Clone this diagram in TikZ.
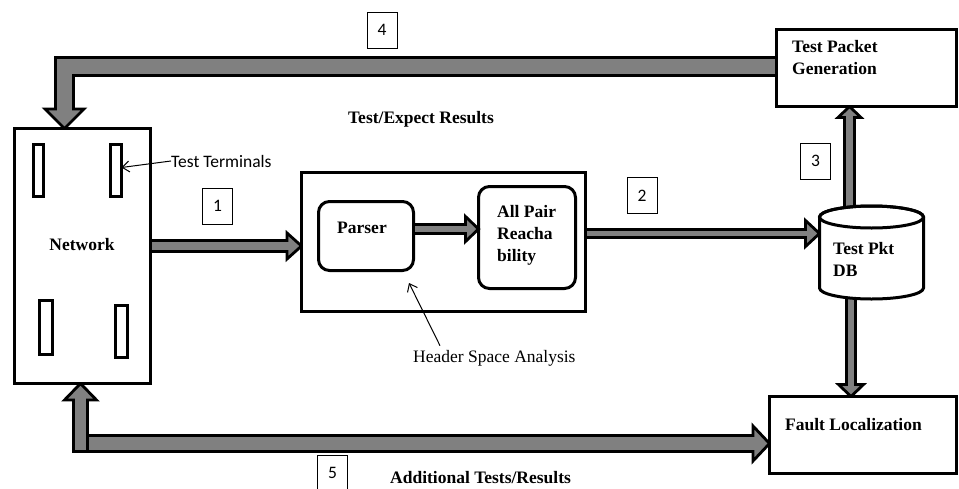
\documentclass[tikz,border=0pt]{standalone}
\usepackage{fontspec}
\setmainfont{Liberation Serif}
\newfontfamily\calibrifont{Carlito}
\usetikzlibrary{calc,arrows.meta}
\pgfdeclarelayer{background}
\pgfsetlayers{background,main}
\tikzset{
  box/.style={draw, line width=3pt, fill=white, inner sep=0pt, outer sep=0pt},
  rbox/.style={box, rounded corners=11pt},
  term/.style={draw, line width=3pt, fill=white, inner sep=0pt, outer sep=0pt},
  numbox/.style={draw, line width=0.9pt, inner sep=0pt, outer sep=0pt, minimum width=30pt, minimum height=36pt, font=\calibrifont\fontsize{17.5}{21}\selectfont},
  lbl/.style={font=\fontsize{17.5}{22}\selectfont\bfseries, inner sep=0pt, align=left},
  plainlbl/.style={font=\fontsize{17.5}{22}\selectfont, inner sep=0pt},
  callbl/.style={font=\calibrifont\fontsize{17.5}{21}\selectfont, inner sep=0pt},
  fat/.style={fill=gray, draw=black, line width=2.8pt, line join=miter},
  thinarrow/.style={line width=1pt, -{Straight Barb[length=7pt,width=11pt]}},
}
\newcommand\fatright[5]{\filldraw[fat] let \p1=#1, \p2=#2 in (\x1,\y1+#3) -- (\x2-#5,\y1+#3) -- (\x2-#5,\y1+#4) -- (\x2,\y1) -- (\x2-#5,\y1-#4) -- (\x2-#5,\y1-#3) -- (\x1,\y1-#3) -- cycle;}
\newcommand\fatup[5]{\filldraw[fat] let \p1=#1, \p2=#2 in (\x1-#3,\y1) -- (\x1-#3,\y2-#5) -- (\x1-#4,\y2-#5) -- (\x1,\y2) -- (\x1+#4,\y2-#5) -- (\x1+#3,\y2-#5) -- (\x1+#3,\y1) -- cycle;}
\newcommand\fatdown[5]{\filldraw[fat] let \p1=#1, \p2=#2 in (\x1-#3,\y1) -- (\x1-#3,\y2+#5) -- (\x1-#4,\y2+#5) -- (\x1,\y2) -- (\x1+#4,\y2+#5) -- (\x1+#3,\y2+#5) -- (\x1+#3,\y1) -- cycle;}
\begin{document}
\begin{tikzpicture}[x=1pt,y=-1pt]
\useasboundingbox (0,0) rectangle (959,488);

% Network
\node[box, minimum width=136pt, minimum height=255pt] (net) at (82.5,256) {};
\node[term, minimum width=10pt, minimum height=52pt] (t1) at (38.5,170.5) {};
\node[term, minimum width=11pt, minimum height=52pt] (t2) at (116,170.5) {};
\node[term, minimum width=13pt, minimum height=54pt] (t3) at (46,327.5) {};
\node[term, minimum width=12pt, minimum height=52pt] (t4) at (121.5,331.5) {};
\node[lbl] (nettxt) at (82,245) {Network};

% Header space analysis
\node[box, minimum width=284pt, minimum height=139pt] (hsa) at (443.5,242) {};
\node[rbox, minimum width=95pt, minimum height=69pt] (parser) at (366,236) {};
\node[lbl, anchor=base] (partxt) at (362,233) {Parser};
\node[rbox, minimum width=97pt, minimum height=102pt] (apr) at (527,237.5) {};
\node[lbl, anchor=north west] (aprtxt) at (497,205) {All Pair\\Reacha\\bility};

% Test packet generation
\node[box, minimum width=180pt, minimum height=77pt] (tpg) at (866.5,68) {};
\node[lbl, anchor=north west] (tpgtxt) at (792,40) {Test Packet\\Generation};

% Fault localization
\node[box, minimum width=187pt, minimum height=77pt] (fl) at (863,435) {};
\node[lbl, anchor=base west] (fltxt) at (785,430) {Fault Localization};

% Database cylinder
\filldraw[fill=white, line width=3pt] (819.5,217) -- (819.5,288)
  arc[start angle=180, end angle=0, x radius=52, y radius=11] -- (923.5,217)
  arc[start angle=0, end angle=-180, x radius=52, y radius=11] -- cycle;
\draw[line width=3pt] (871.5,217) ellipse[x radius=52, y radius=11];
\coordinate (dbw) at (819.5,233.5);
\coordinate (dbt) at (849.5,214);
\coordinate (dbb) at (851,290);
\node[lbl, anchor=north west] (dbtxt) at (833,242) {Test Pkt\\DB};

% number boxes
\node[numbox] (n4) at (382,30) {4};
\node[numbox] (n1) at (217.5,206) {1};
\node[numbox] (n2) at (642,195.5) {2};
\node[numbox] (n3) at (815.5,161) {3};
\node[numbox] (n5) at (332.5,473) {5};

% labels
\node[lbl, anchor=base] (ter) at (421,123) {Test/Expect Results};
\node[callbl, anchor=base west] (tt) at (171,167) {Test Terminals};
\draw[thinarrow] (tt.west) -- ([yshift=3pt]t2.east);
\node[plainlbl, anchor=base west] (hsal) at (413,362) {Header Space Analysis};
\coordinate (hsatip) at (409,283);
\draw[thinarrow] ($(hsal.north west)+(27,-4)$) -- (hsatip);
\node[lbl, anchor=base west] (addl) at (390,483) {Additional Tests/Results};

% arrow inside the analysis box
\fatright{($(parser.east)+(0,-7)$)}{(apr.west)}{4.5pt}{12.5pt}{13pt}

% fat arrows
\begin{pgfonlayer}{background}
\fatright{($(net.east)+(0,-10)$)}{(hsa.west)}{5.5pt}{13pt}{14.5pt}
\fatright{($(hsa.east)+(0,-8.5)$)}{(dbw)}{4pt}{13pt}{14pt}
\fatup{(dbt)}{(tpg.south)}{5pt}{11.5pt}{11pt}
\fatdown{(dbb)}{(fl.north)}{4.5pt}{12.5pt}{12pt}
\filldraw[fat] let \p1=($(tpg.west)+(0,-1.5)$), \p2=($(net.north)+(-18,0)$) in
  (\x1,\y1+9pt) -- (\x2-9pt,\y1+9pt) -- (\x2-9pt,\y2+19.5pt) -- (\x2-19.5pt,\y2+19.5pt)
  -- (\x2,\y2) -- (\x2+19.5pt,\y2+19.5pt) -- (\x2+9pt,\y2+19.5pt) -- (\x2+9pt,\y1-9pt)
  -- (\x1,\y1-9pt) -- cycle;
\fatup{($(net.south)+(-2,68)$)}{(net.south)}{7pt}{16pt}{16.5pt}
\fatright{($(net.south)+(5,60)$)}{(fl.west)}{8pt}{17.5pt}{16.5pt}
\end{pgfonlayer}
\end{tikzpicture}
\end{document}
